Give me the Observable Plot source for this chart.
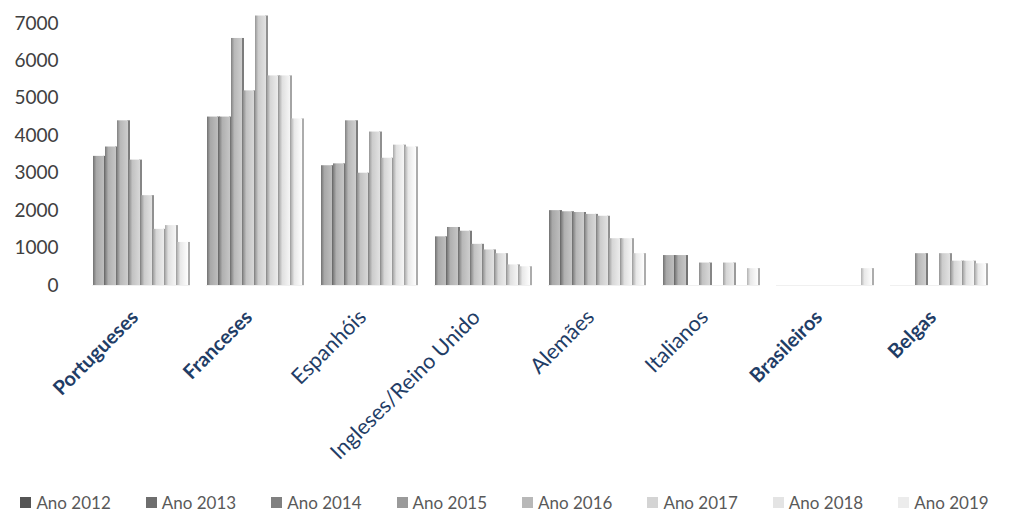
<!DOCTYPE html>
<html>
<head>
<meta charset="utf-8">
<script src="https://cdn.jsdelivr.net/npm/d3@7"></script>
<script src="https://cdn.jsdelivr.net/npm/@observablehq/plot@0.6"></script>
<style>
  html, body { margin: 0; padding: 0; background: #fff; }
  #chart { width: 1009px; height: 484px; }
  #legend { display: flex; justify-content: center; font-family: Lato, "Open Sans", sans-serif; font-size: 17px; color: #595959; margin-top: 8px; white-space: nowrap; width: 1009px; }
  #legend .item { display: flex; align-items: center; margin: 0 17.5px; flex-shrink: 0; }
  #legend .sw { width: 11px; height: 11px; margin-right: 5px; }
</style>
</head>
<body>
<svg width="0" height="0" style="position:absolute">
  <defs id="grads"></defs>
</svg>
<div id="chart"></div>
<div id="legend"></div>
<script>
const categories = ["Portugueses", "Franceses", "Espanhóis", "Ingleses/Reino Unido", "Alemães", "Italianos", "Brasileiros", "Belgas"];
const boldCategories = ["Portugueses", "Franceses", "Brasileiros", "Belgas"];
const years = ["Ano 2012", "Ano 2013", "Ano 2014", "Ano 2015", "Ano 2016", "Ano 2017", "Ano 2018", "Ano 2019"];
const yTicks = [0, 1000, 2000, 3000, 4000, 5000, 6000, 7000];

// values per year, in category order
const ano2012 = [3450, 4500, 3200, 1300, 2000, 800, null, null];
const ano2013 = [3700, 4500, 3250, 1550, 1970, 800, null, null];
const ano2014 = [4400, 6600, 4400, 1450, 1950, null, null, 850];
const ano2015 = [3350, 5200, 3000, 1100, 1900, 600, null, null];
const ano2016 = [2400, 7200, 4100, 950, 1850, null, null, 850];
const ano2017 = [1500, 5600, 3400, 850, 1250, 600, null, 650];
const ano2018 = [1600, 5600, 3750, 550, 1250, null, null, 650];
const ano2019 = [1150, 4450, 3700, 500, 850, 450, 450, 580];
const series = [ano2012, ano2013, ano2014, ano2015, ano2016, ano2017, ano2018, ano2019];

// gray tones per year
const tones = [168, 176, 184, 194, 204, 214, 224, 232];
const swatch = ["#555555", "#6e6e6e", "#808080", "#9a9a9a", "#b8b8b8", "#d4d4d4", "#e4e4e4", "#ececec"];

const g = (v) => `rgb(${v},${v},${v})`;
const defs = d3.select("#grads");
tones.forEach((t, i) => {
  const lg = defs.append("linearGradient").attr("id", "g" + i).attr("x1", "0").attr("x2", "1").attr("y1", "0").attr("y2", "0");
  lg.append("stop").attr("offset", "0%").attr("stop-color", g(Math.max(0, t - 55)));
  lg.append("stop").attr("offset", "30%").attr("stop-color", g(Math.min(255, t)));
  lg.append("stop").attr("offset", "100%").attr("stop-color", g(Math.min(255, t + 22)));
});

const data = [];
categories.forEach((c, ci) => {
  years.forEach((y, yi) => {
    const v = series[yi][ci];
    if (v != null) data.push({category: c, year: y, yi, value: v});
  });
});

const marks = [];
years.forEach((y, yi) => {
  const d = data.filter(r => r.yi === yi);
  // side face (darker)
  marks.push(Plot.barY(d, {fx: "category", x: "year", y: "value", fill: g(Math.max(0, tones[yi] - 60)), insetLeft: 10, insetRight: -1}));
  // front face
  marks.push(Plot.barY(d, {fx: "category", x: "year", y: "value", fill: `url(#g${yi})`, insetRight: 1}));
});

const labelOpts = {
  fx: d => d,
  text: d => d,
  frameAnchor: "bottom",
  dy: 33,
  dx: -2,
  rotate: -45,
  textAnchor: "end",
  fill: "#1f3d66"
};

const chart = Plot.plot({
  width: 1009,
  height: 484,
  marginLeft: 89,
  marginRight: 18,
  marginTop: 23,
  marginBottom: 199,
  fx: {domain: categories, padding: 0.14, axis: null},
  x: {domain: years, padding: 0, axis: null},
  y: {domain: [0, 7000], axis: null},
  style: {fontFamily: "Lato, 'Open Sans', sans-serif"},
  marks: [
    Plot.ruleY([0], {stroke: "#f0f0f0"}),
    ...marks,
    Plot.axisY({ticks: yTicks, tickFormat: d => String(d), tickSize: 0, tickPadding: 34, fontSize: 19, fill: "#404040", anchor: "left", label: null}),
    Plot.text(categories.filter(c => boldCategories.includes(c)), {...labelOpts, fontSize: 20, fontWeight: "bold"}),
    Plot.text(categories.filter(c => !boldCategories.includes(c)), {...labelOpts, fontSize: 21.5, fontWeight: "normal"})
  ]
});
document.getElementById("chart").appendChild(chart);

const leg = d3.select("#legend");
years.forEach((y, i) => {
  const it = leg.append("div").attr("class", "item");
  it.append("div").attr("class", "sw").style("background", swatch[i]);
  it.append("span").text(y);
});
</script>
</body>
</html>
